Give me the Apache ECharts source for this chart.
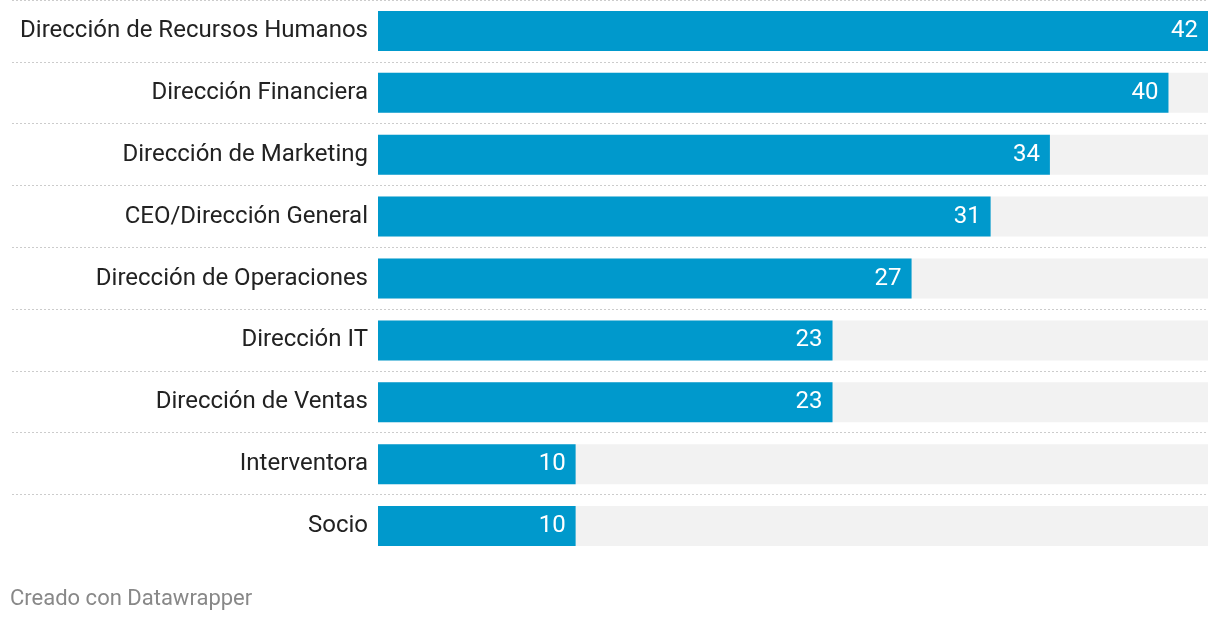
<!DOCTYPE html>
<html>
<head>
<meta charset="utf-8">
<script src="https://cdn.jsdelivr.net/npm/echarts@6/dist/echarts.min.js"></script>
<style>html,body{margin:0;padding:0;background:#fff}#c{width:1220px;height:622px}</style>
</head>
<body>
<div id="c"></div>
<script>
const categories = ["Dirección de Recursos Humanos","Dirección Financiera","Dirección de Marketing","CEO/Dirección General","Dirección de Operaciones","Dirección IT","Dirección de Ventas","Interventora","Socio"];
const values = [42,40,34,31,27,23,23,10,10];
const maxValue = 42;
const footer = "Creado con Datawrapper";

const chart = echarts.init(document.getElementById('c'));
chart.setOption({
  animation: false,
  backgroundColor: '#ffffff',
  textStyle: { fontFamily: 'Roboto' },
  title: {
    text: footer, left: 5, top: 583,
    textStyle: { fontFamily: 'Roboto', fontSize: 22, fontWeight: 'normal', color: '#888888' }
  },
  grid: [
    { left: 378, right: 12, top: -1, height: 558, containLabel: false },
    { left: 12, right: 12, top: -1.5, height: 496, containLabel: false }
  ],
  xAxis: [
    { type: 'value', gridIndex: 0, min: 0, max: maxValue, show: false },
    { type: 'value', gridIndex: 1, min: 0, max: 1, show: false }
  ],
  yAxis: [
    {
      type: 'category', gridIndex: 0, data: categories, inverse: true,
      axisLine: { show: false }, axisTick: { show: false }, splitLine: { show: false },
      axisLabel: { margin: 10, fontFamily: 'Roboto', fontSize: 24, color: '#222222', padding: [3, 0, 0, 0] }
    },
    {
      type: 'category', gridIndex: 1, data: categories.slice(0, 8), inverse: true,
      axisLine: { show: false }, axisTick: { show: false }, axisLabel: { show: false },
      splitLine: { show: true, lineStyle: { color: '#cccccc', width: 1, type: [2, 2] } }
    }
  ],
  series: [
    {
      type: 'bar', xAxisIndex: 0, yAxisIndex: 0, data: values, barWidth: 40,
      itemStyle: { color: '#0099cc' },
      showBackground: true, backgroundStyle: { color: '#f2f2f2' },
      label: { show: true, position: 'insideRight', distance: 10, color: '#ffffff', fontFamily: 'Roboto', fontSize: 24, padding: [3, 0, 0, 0] },
      silent: true
    }
  ]
});
</script>
</body>
</html>
